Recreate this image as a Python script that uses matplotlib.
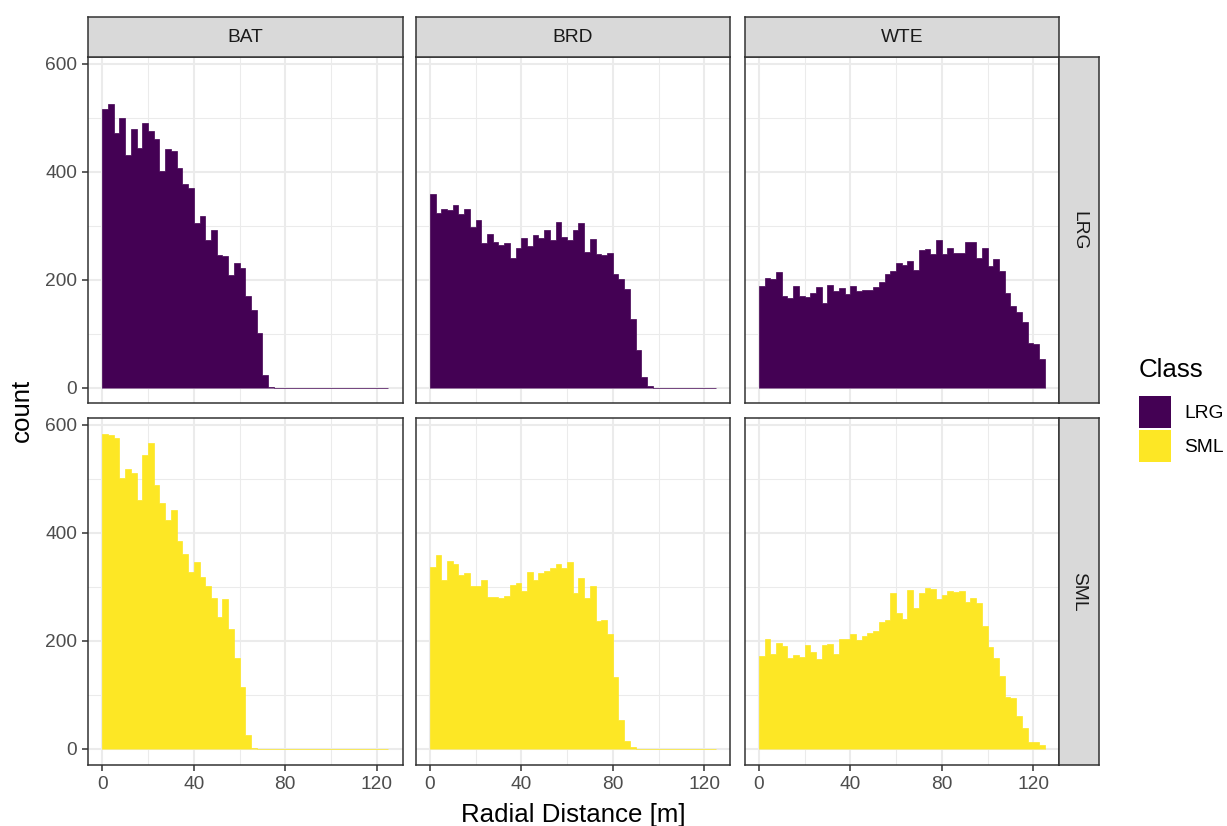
import numpy as np
import matplotlib.pyplot as plt
from matplotlib.patches import Patch

plt.rcParams['font.family'] = ['Liberation Sans', 'DejaVu Sans']

# histogram bins: 2.5 m wide, 0 .. 125 m
bin_edges = np.arange(0, 125.01, 2.5)

species = ['BAT', 'BRD', 'WTE']
classes = ['LRG', 'SML']
class_colors = {'LRG': '#440154', 'SML': '#FDE725'}

# counts per bin for every species / size class
bat_lrg = [515, 525, 471, 500, 430, 478, 443, 490, 476, 461, 401, 441, 439, 406, 377,
           369, 305, 318, 273, 292, 246, 244, 209, 231, 222, 170, 144, 101, 24, 2] + [0] * 20
bat_sml = [583, 581, 576, 502, 517, 511, 461, 543, 565, 489, 454, 423, 441, 384, 360,
           327, 345, 318, 301, 279, 244, 277, 222, 168, 114, 25, 2] + [0] * 23
brd_lrg = [359, 324, 330, 329, 338, 321, 330, 297, 310, 268, 284, 270, 264, 268, 240,
           258, 277, 262, 282, 277, 292, 273, 306, 279, 273, 292, 305, 251, 275, 247,
           245, 249, 210, 201, 183, 127, 70, 20, 4] + [0] * 11
brd_sml = [336, 358, 312, 347, 342, 321, 325, 301, 301, 312, 281, 281, 279, 282, 303,
           306, 292, 327, 312, 325, 329, 334, 342, 334, 345, 288, 316, 279, 301, 236,
           238, 212, 133, 54, 15, 4] + [0] * 14
wte_lrg = [188, 203, 201, 214, 170, 166, 188, 170, 168, 175, 186, 157, 190, 179, 185,
           174, 188, 179, 181, 181, 186, 196, 210, 216, 231, 227, 234, 218, 255, 257,
           247, 273, 247, 258, 249, 249, 270, 270, 240, 258, 225, 238, 216, 176, 151,
           140, 122, 83, 81, 54]
wte_sml = [172, 203, 175, 196, 190, 168, 174, 170, 192, 179, 166, 192, 194, 175, 203,
           203, 212, 201, 209, 214, 218, 234, 238, 288, 251, 240, 294, 260, 288, 297,
           295, 277, 284, 292, 290, 292, 271, 279, 270, 227, 188, 168, 135, 96, 94,
           61, 39, 13, 13, 7]

counts = {
    ('LRG', 'BAT'): bat_lrg, ('SML', 'BAT'): bat_sml,
    ('LRG', 'BRD'): brd_lrg, ('SML', 'BRD'): brd_sml,
    ('LRG', 'WTE'): wte_lrg, ('SML', 'WTE'): wte_sml,
}

x_major = [0, 40, 80, 120]
x_minor = [20, 60, 100]
y_major = [0, 200, 400, 600]
y_minor = [100, 300, 500]

# shared scales with 5% padding like ggplot
x_span = bin_edges[-1] - bin_edges[0]
xlim = (bin_edges[0] - 0.05 * x_span, bin_edges[-1] + 0.05 * x_span)
y_top = max(max(v) for v in counts.values())
ylim = (-0.05 * y_top, 1.05 * y_top)

W, H = 1227, 826
fig = plt.figure(figsize=(W / 100, H / 100), dpi=100)


def add_px_axes(left, top, width, height):
    return fig.add_axes([left / W, 1 - (top + height) / H, width / W, height / H])


def style_strip(sax):
    sax.set_facecolor(strip_fill)
    sax.set_xticks([])
    sax.set_yticks([])
    for s in sax.spines.values():
        s.set_color(border)
        s.set_linewidth(1.1)


col_left = [88, 415.5, 744.5]
col_w = 314.5
row_top = [57, 418]
row_h = 346.5
border = '#333333'
grid_c = '#EBEBEB'
strip_fill = '#D9D9D9'

for r, cls in enumerate(classes):
    for c, sp in enumerate(species):
        ax = add_px_axes(col_left[c], row_top[r], col_w, row_h)
        ax.set_facecolor('white')
        ax.set_xlim(xlim)
        ax.set_ylim(ylim)
        ax.set_xticks(x_major)
        ax.set_xticks(x_minor, minor=True)
        ax.set_yticks(y_major)
        ax.set_yticks(y_minor, minor=True)
        ax.grid(True, which='major', color=grid_c, linewidth=1.5)
        ax.grid(True, which='minor', color=grid_c, linewidth=0.75)
        ax.set_axisbelow(True)
        # filled step outline: empty bins still show as a thin line on the baseline
        ax.stairs(counts[(cls, sp)], bin_edges, fill=True, baseline=0,
                  facecolor=class_colors[cls], edgecolor=class_colors[cls], linewidth=0.5)
        for s in ax.spines.values():
            s.set_color(border)
            s.set_linewidth(1.1)
            s.set_zorder(5)
        ax.tick_params(which='minor', length=0)
        ax.tick_params(which='major', length=4.5, width=1.1, color=border,
                       labelcolor='#4D4D4D', labelsize=13.8, pad=3.5)
        if c != 0:
            ax.tick_params(axis='y', which='major', length=0, labelleft=False)
        if r != len(classes) - 1:
            ax.tick_params(axis='x', which='major', length=0, labelbottom=False)

        # column strip on top
        if r == 0:
            sax = add_px_axes(col_left[c], 17, col_w, 40)
            style_strip(sax)
            sax.text(0.5, 0.5, sp, ha='center', va='center', fontsize=13.8,
                     color='#1A1A1A', transform=sax.transAxes)
        # row strip on the right
        if c == len(species) - 1:
            sax = add_px_axes(1059, row_top[r], 40, row_h)
            style_strip(sax)
            sax.text(0.5, 0.5, cls, ha='center', va='center', rotation=-90,
                     fontsize=13.8, color='#1A1A1A', transform=sax.transAxes)

fig.text(573.5 / W, 1 - 822 / H, 'Radial Distance [m]', ha='center', va='baseline',
         fontsize=18.6, color='black')
fig.text(22 / W, 1 - 410.5 / H, 'count', ha='center', va='center', rotation=90,
         fontsize=18.6, color='black')

handles = [Patch(facecolor=class_colors[k], edgecolor='none') for k in classes]
leg = fig.legend(handles, classes, title='Class', loc='upper left',
                 bbox_to_anchor=(1139 / W, 1 - 358 / H), frameon=False,
                 fontsize=13.8, title_fontsize=18.6, alignment='left',
                 handlelength=1.67, handleheight=2.19, labelspacing=0.1,
                 handletextpad=0.7, borderpad=0, borderaxespad=0)
# more room between the legend title and the keys
leg._legend_box.sep = 10

fig.savefig('out.png', dpi=100)
